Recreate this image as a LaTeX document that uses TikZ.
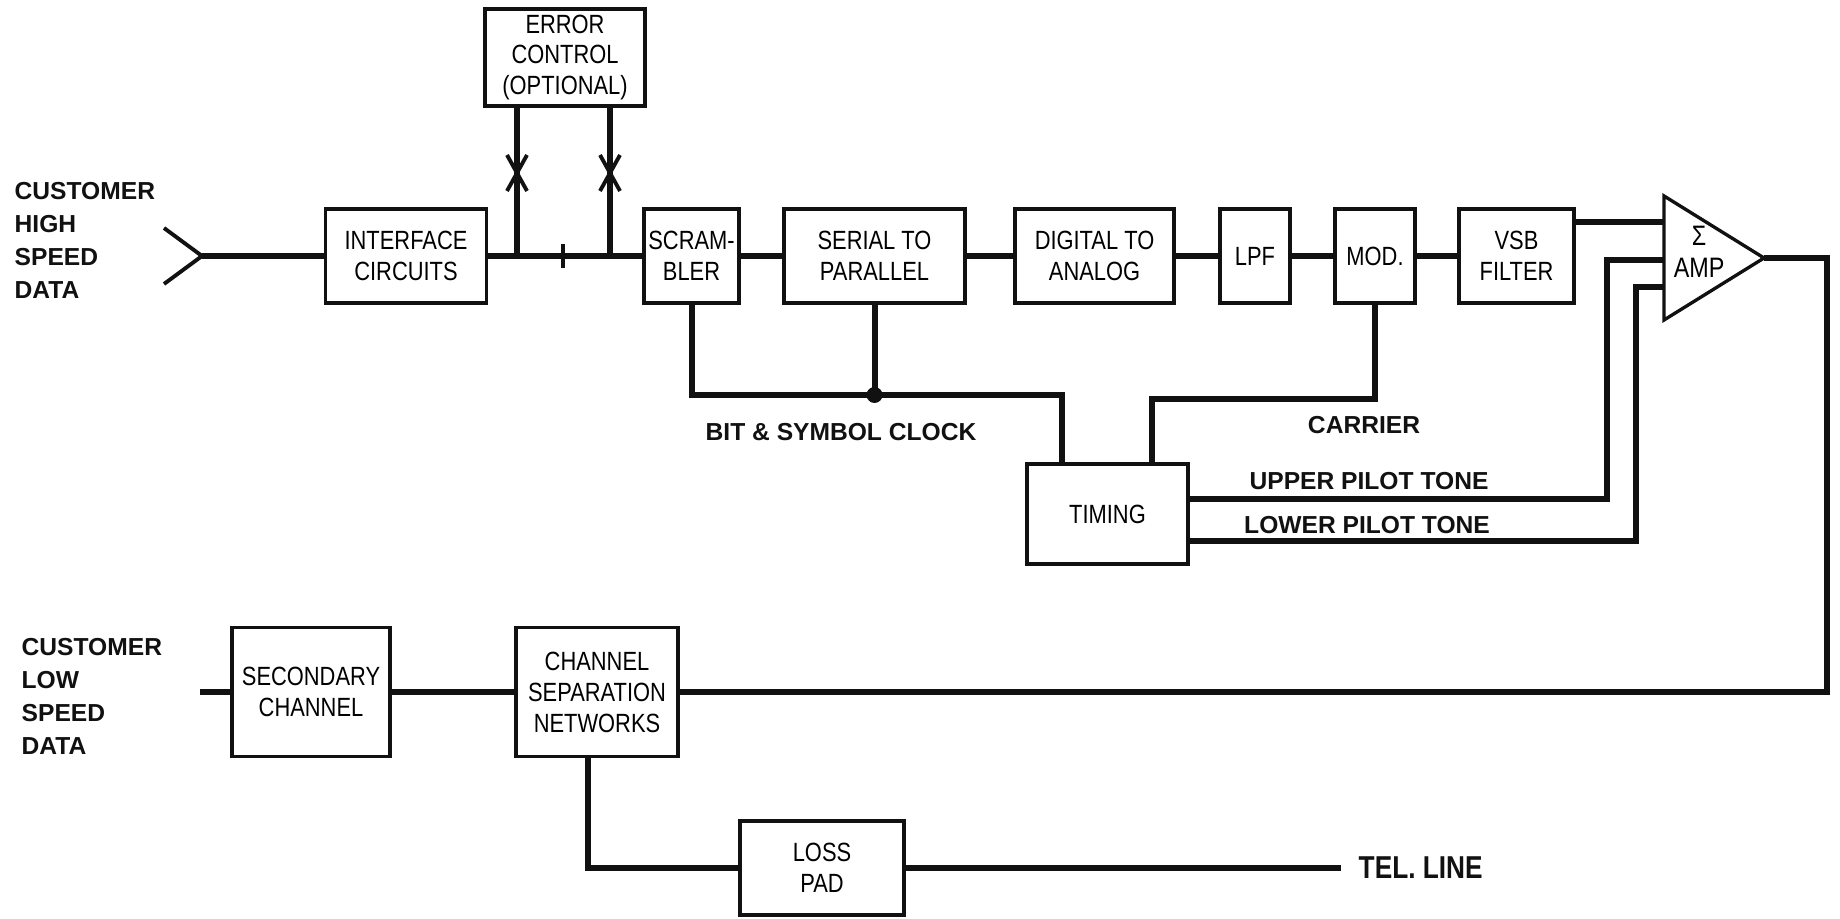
\documentclass[tikz,border=0pt]{standalone}
\usepackage{fontspec}
\setmainfont{Liberation Sans}
\newfontfamily\condfont[FakeStretch=0.83]{Liberation Sans}
\usetikzlibrary{shapes.geometric, calc}
\definecolor{Ink}{HTML}{111111}

\begin{document}
\begin{tikzpicture}[
            block/.style={rectangle, draw=Ink, line width=0.95pt, fill=white, minimum height=0.94cm, align=center, inner sep=1pt, font=\condfont\fontsize{7.5}{8.8}\selectfont},
            amp/.style={isosceles triangle, isosceles triangle stretches, draw=Ink, line width=0.95pt, minimum width=1.24cm, minimum height=1.0cm, inner sep=0pt, outer sep=0pt, anchor=west},
            wire/.style={draw=Ink, line width=1.7pt},
            thinwire/.style={draw=Ink, line width=1.1pt},
            lbl/.style={font=\bfseries\fontsize{7}{9.4}\selectfont, text=Ink, inner sep=0pt},
            side/.style={lbl, align=left, anchor=west}
        ]
            \useasboundingbox (0,0) rectangle (18.40,9.18);

            % High speed path
            \node[block, minimum width=1.61cm] (ifc) at (4.06,6.62) {INTERFACE\\CIRCUITS};
            \node[block, minimum width=1.60cm, minimum height=0.97cm] (err) at (5.65,8.605) {ERROR\\CONTROL\\(OPTIONAL)};
            \node[block, minimum width=0.95cm] (scr) at (6.915,6.62) {SCRAM-\\BLER};
            \node[block, minimum width=1.81cm] (s2p) at (8.745,6.62) {SERIAL TO\\PARALLEL};
            \node[block, minimum width=1.59cm] (dac) at (10.945,6.62) {DIGITAL TO\\ANALOG};
            \node[block, minimum width=0.70cm] (lpf) at (12.55,6.62) {LPF};
            \node[block, minimum width=0.80cm] (mod) at (13.75,6.62) {MOD.};
            \node[block, minimum width=1.15cm] (vsb) at (15.165,6.62) {VSB\\FILTER};
            \node[amp] (amp) at (16.64,6.60) {};
            \node[font=\condfont\fontsize{8}{9}\selectfont, align=center, inner sep=0pt] (ampt) at (16.99,6.66) {Σ\\AMP};
            \node[block, minimum width=1.61cm, minimum height=1.00cm] (tim) at (11.075,4.04) {TIMING};

            % Low speed path
            \node[block, minimum width=1.58cm, minimum height=1.29cm] (sec) at (3.11,2.26) {SECONDARY\\CHANNEL};
            \node[block, minimum width=1.62cm, minimum height=1.29cm] (chs) at (5.97,2.26) {CHANNEL\\SEPARATION\\NETWORKS};
            \node[block, minimum width=1.64cm, minimum height=0.94cm] (loss) at (8.22,0.50) {LOSS\\PAD};

            % Labels
            \node[side] (hsd) at (0.14,6.78) {CUSTOMER\\HIGH\\SPEED\\DATA};
            \node[side] (lsd) at (0.21,2.22) {CUSTOMER\\LOW\\SPEED\\DATA};
            \node[lbl] (clklbl) at (8.41,4.86) {BIT \& SYMBOL CLOCK};
            \node[lbl] (carlbl) at (13.64,4.93) {CARRIER};
            \node[lbl] (uplbl) at (13.69,4.37) {UPPER PILOT TONE};
            \node[lbl] (lolbl) at (13.67,3.93) {LOWER PILOT TONE};
            \node[lbl, font=\condfont\bfseries\fontsize{9}{10}\selectfont, anchor=west] (tellbl) at (13.58,0.50) {TEL. LINE};

            % Free ends
            \coordinate (hsin) at (2.02,6.62);
            \coordinate (lsin) at (2.00,2.26);
            \coordinate (tel) at (13.41,0.50);
            \coordinate (legA) at (5.17,6.62);
            \coordinate (legB) at (6.10,6.62);
            \coordinate (inA) at (16.64,6.96);
            \coordinate (inB) at (16.64,6.58);
            \coordinate (inC) at (16.64,6.31);
            \coordinate (clk) at (10.62,5.23);
            \coordinate (car) at (11.52,5.19);

            % Connections
            \draw[thinwire] (1.64,6.90) -- (hsin) -- (1.64,6.34);
            \draw[wire] (hsin) -- (ifc);
            \draw[wire] (ifc) -- (scr);
            \draw[wire] (scr) -- (s2p);
            \draw[wire] (s2p) -- (dac);
            \draw[wire] (dac) -- (lpf);
            \draw[wire] (lpf) -- (mod);
            \draw[wire] (mod) -- (vsb);
            \draw[wire] (err.south -| legA) -- (legA);
            \draw[wire] (err.south -| legB) -- (legB);
            \foreach \x in {5.17,6.10}
                \draw[thinwire] (\x-0.1,7.63) -- (\x+0.1,7.27) (\x+0.1,7.63) -- (\x-0.1,7.27);
            \draw[thinwire] (5.63,6.50) -- (5.63,6.74);
            \draw[wire] (vsb.east |- inA) -- (inA);
            \draw[wire] ([yshift=0.15cm]tim.east) -| (16.07,6.58) -- (inB);
            \draw[wire] ([yshift=-0.27cm]tim.east) -| (16.36,6.31) -- (inC);
            \draw[wire] (scr.south) |- (clk) -- (clk |- tim.north);
            \draw[wire] (s2p.south) -- (s2p.south |- clk);
            \fill[Ink] (s2p.south |- clk) circle (0.08);
            \draw[wire] (car |- tim.north) -- (car) -| (mod.south);
            \draw[wire] (amp.apex) -- (18.27,6.60) |- (chs.east);
            \draw[wire] (lsin) -- (sec);
            \draw[wire] (sec) -- (chs);
            \draw[wire] ([xshift=-0.09cm]chs.south) |- (loss.west);
            \draw[wire] (loss) -- (tel);
        \end{tikzpicture}
\end{document}
